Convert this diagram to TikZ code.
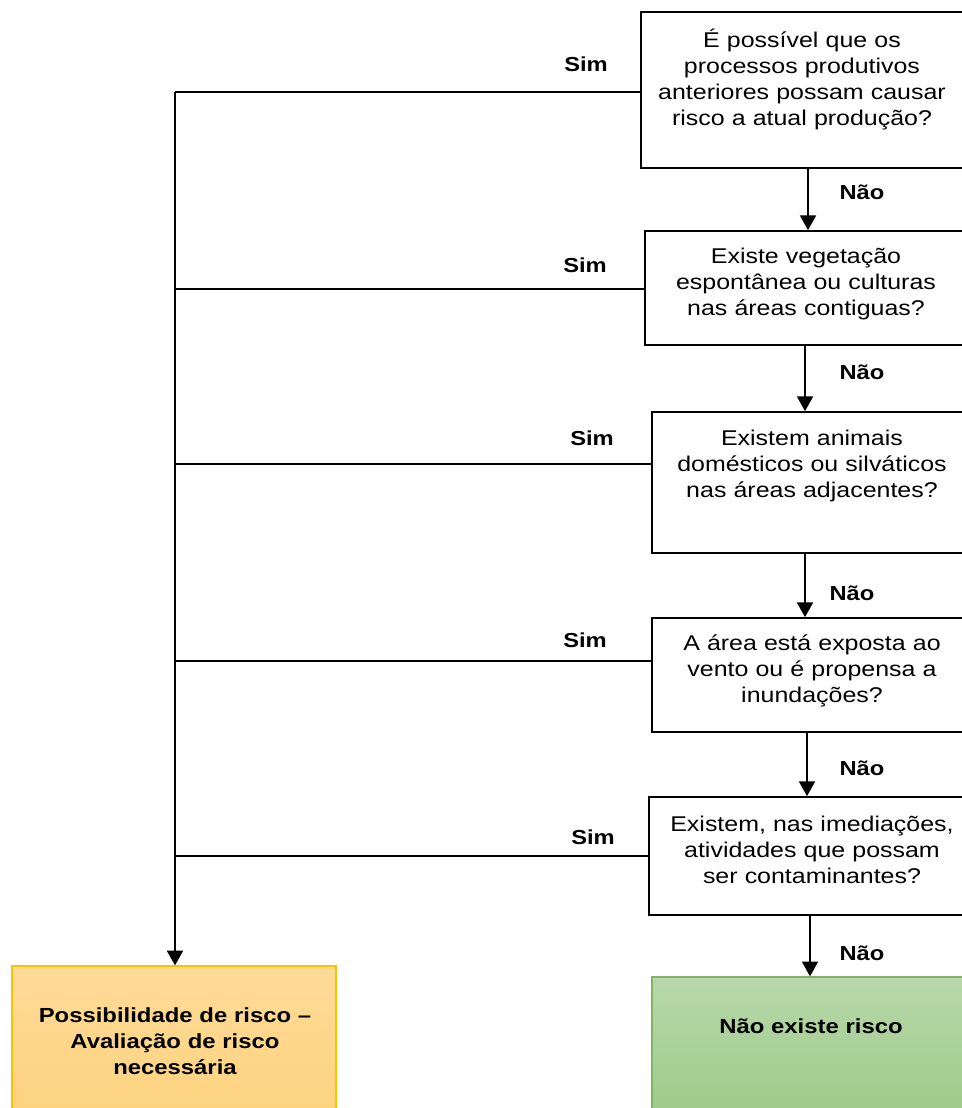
\documentclass[tikz,border=0pt]{standalone}
\usepackage{fontspec}
\setmainfont{Liberation Sans}[FakeStretch=1.17]
\usetikzlibrary{arrows.meta}

\definecolor{qline}{HTML}{000000}
\definecolor{riskfill}{HTML}{FFDB98}
\definecolor{riskfillb}{HTML}{FDD27C}
\definecolor{riskedge}{HTML}{FFC000}
\definecolor{okfill}{HTML}{B7D8A9}
\definecolor{okfillb}{HTML}{9CC987}
\definecolor{okedge}{HTML}{82B366}

\tikzset{
  question/.style={draw=qline, line width=1.3pt, fill=white, inner sep=0pt},
  qtext/.style={font=\fontsize{16pt}{19.5pt}\selectfont, align=center,
    text width=235pt, inner sep=0pt, anchor=base},
  answer/.style={font=\fontsize{15.2pt}{19.5pt}\selectfont\bfseries, inner sep=0pt, anchor=base},
  outtext/.style={font=\fontsize{15.3pt}{19.5pt}\selectfont\bfseries, align=center,
    text width=235pt, inner sep=0pt, anchor=base},
  flow/.style={line width=1.1pt, -{Triangle[length=11pt, width=12pt]}},
  branch/.style={line width=1.1pt},
  trunk/.style={line width=1.5pt, -{Triangle[length=11pt, width=12pt]}},
  riskbox/.style={draw=riskedge, line width=1pt, top color=riskfill, bottom color=riskfillb, inner sep=0pt},
  okbox/.style={draw=okedge, line width=1pt, top color=okfill, bottom color=okfillb, inner sep=0pt},
}

\begin{document}
\begin{tikzpicture}[x=0.75pt, y=-0.75pt]
  \useasboundingbox[fill=white] (0,0) rectangle (962,1108);
  \clip (0,0) rectangle (962,1108);

  % question boxes (open to the right edge)
  \node[question, minimum width=243.75pt, minimum height=117pt]   (q1) at (803.5,90) {};
  \node[question, minimum width=240.75pt, minimum height=85.5pt]  (q2) at (805.5,288) {};
  \node[question, minimum width=235.5pt,  minimum height=105.75pt](q3) at (809,482.5) {};
  \node[question, minimum width=235.5pt,  minimum height=85.5pt]  (q4) at (809,675) {};
  \node[question, minimum width=237.75pt, minimum height=88.5pt]  (q5) at (807.5,856) {};

  \node[qtext] (t1) at (802,47)  {É possível que os\\processos produtivos\\anteriores possam causar\\risco a atual produção?};
  \node[qtext] (t2) at (806,263) {Existe vegetação\\espontânea ou culturas\\nas áreas contiguas?};
  \node[qtext] (t3) at (812,445) {Existem animais\\domésticos ou silváticos\\nas áreas adjacentes?};
  \node[qtext] (t4) at (812,650) {A área está exposta ao\\vento ou é propensa a\\inundações?};
  \node[qtext] (t5) at (812,831) {Existem, nas imediações,\\atividades que possam\\ser contaminantes?};

  % outcome boxes
  \node[riskbox, minimum width=243pt, minimum height=123pt] (risk) at (174,1048) {};
  \node[okbox, minimum width=235.5pt, minimum height=114.75pt] (norisk) at (809,1053.5) {};
  \node[outtext] (trisk) at (175,1022) {Possibilidade de risco –\\Avaliação de risco\\necessária};
  \node[outtext] (tok) at (811,1033) {Não existe risco};

  % "Não" path down the right column
  \draw[flow] (q1.south -| 808,0) -- (q2.north -| 808,0);
  \draw[flow] (q2.south -| 805,0) -- (q3.north -| 805,0);
  \draw[flow] (q3.south -| 805,0) -- (q4.north -| 805,0);
  \draw[flow] (q4.south -| 807,0) -- (q5.north -| 807,0);
  \draw[flow] (q5.south -| 810,0) -- (norisk.north -| 810,0);

  \node[answer] (n1) at (862,199) {Não};
  \node[answer] (n2) at (862,379) {Não};
  \node[answer] (n3) at (852,600) {Não};
  \node[answer] (n4) at (862,775) {Não};
  \node[answer] (n5) at (862,960) {Não};

  % "Sim" branches joining the left trunk
  \coordinate (j1) at (175,92);
  \coordinate (j2) at (175,289);
  \coordinate (j3) at (175,464);
  \coordinate (j4) at (175,661);
  \coordinate (j5) at (175,856);
  \draw[branch] (q1.west |- j1) -- (j1);
  \draw[branch] (q2.west |- j2) -- (j2);
  \draw[branch] (q3.west |- j3) -- (j3);
  \draw[branch] (q4.west |- j4) -- (j4);
  \draw[branch] (q5.west |- j5) -- (j5);
  \draw[trunk] (j1) -- (j1 |- risk.north);

  \node[answer] (s1) at (586,71)  {Sim};
  \node[answer] (s2) at (585,272) {Sim};
  \node[answer] (s3) at (592,445) {Sim};
  \node[answer] (s4) at (585,647) {Sim};
  \node[answer] (s5) at (593,844) {Sim};
\end{tikzpicture}
\end{document}
